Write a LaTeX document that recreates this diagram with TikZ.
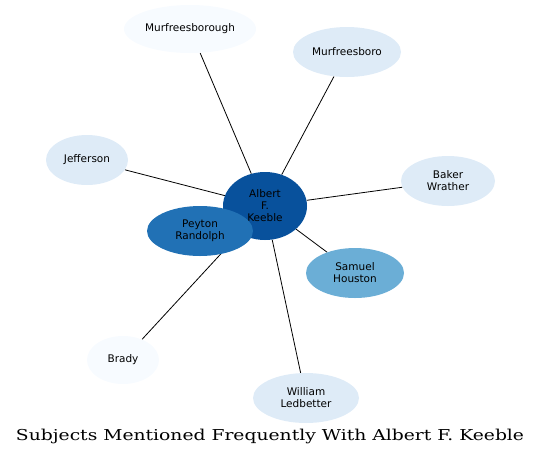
\documentclass[tikz,border=0pt]{standalone}
\usepackage{fontspec}
\setsansfont{DejaVu Sans}
\newfontfamily\titlefont{DejaVu Serif}
\usetikzlibrary{shapes.geometric,backgrounds}

\definecolor{blueA}{HTML}{08519C}
\definecolor{blueB}{HTML}{2171B5}
\definecolor{blueC}{HTML}{6BAED6}
\definecolor{blueD}{HTML}{DEEBF7}
\definecolor{blueE}{HTML}{F7FBFF}

\tikzset{
    subject/.style={ellipse, draw=none, inner sep=0pt, align=center,
        font=\sffamily\fontsize{10.5}{12}\selectfont},
    link/.style={black, line width=0.8pt}
}

\begin{document}
\begin{tikzpicture}[x=1pt, y=-1pt]
            % Page frame, in pixels of the layout
            \useasboundingbox (0, 0) rectangle (541, 459);

            % Central subject
            \node[subject, fill=blueA, minimum width=84pt, minimum height=68pt] (keeble) at (265, 206) {Albert\\F.\\Keeble};

            % Related subjects
            \node[subject, fill=blueB, minimum width=106pt, minimum height=50pt] (randolph) at (200, 231) {Peyton\\Randolph};
            \node[subject, fill=blueC, minimum width=98pt, minimum height=50pt] (houston) at (355, 273) {Samuel\\Houston};
            \node[subject, fill=blueD, minimum width=106pt, minimum height=50pt] (ledbetter) at (306, 398) {William\\Ledbetter};
            \node[subject, fill=blueE, minimum width=72pt, minimum height=48pt] (brady) at (123, 360) {Brady};
            \node[subject, fill=blueD, minimum width=82pt, minimum height=50pt] (jefferson) at (87, 160) {Jefferson};
            \node[subject, fill=blueE, minimum width=132pt, minimum height=48pt] (murfreesborough) at (190, 29) {Murfreesborough};
            \node[subject, fill=blueD, minimum width=108pt, minimum height=50pt] (murfreesboro) at (347, 52) {Murfreesboro};
            \node[subject, fill=blueD, minimum width=94pt, minimum height=50pt] (wrather) at (448, 181) {Baker\\Wrather};

            % Links to the central subject
            \begin{scope}[on background layer]
                \foreach \other in {randolph, houston, ledbetter, brady, jefferson, murfreesborough, murfreesboro, wrather}
                    \draw[link] (keeble) -- (\other);
            \end{scope}

            % Title
            \node[anchor=base, inner sep=0pt] (title) at (270, 440) {\titlefont\fontsize{15}{18}\selectfont\resizebox{508pt}{\height}{Subjects Mentioned Frequently With Albert F. Keeble}};

        \end{tikzpicture}
\end{document}
